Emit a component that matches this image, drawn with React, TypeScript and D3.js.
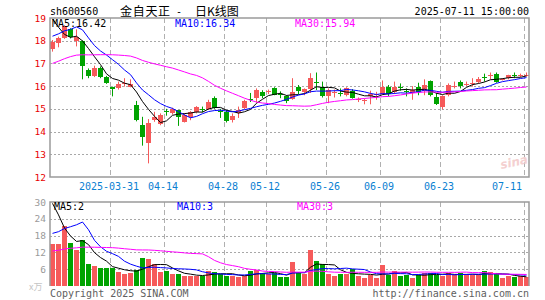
import React, { useEffect, useRef } from 'react';
import * as d3 from 'd3';

// trading days shown (2025-03-17 .. 2025-07-11)
const dates = [
  '2025-03-17', '2025-03-18', '2025-03-19', '2025-03-20', '2025-03-21', '2025-03-24', '2025-03-25', '2025-03-26',
  '2025-03-27', '2025-03-28', '2025-03-31', '2025-04-01', '2025-04-02', '2025-04-03', '2025-04-07', '2025-04-08',
  '2025-04-09', '2025-04-10', '2025-04-11', '2025-04-14', '2025-04-15', '2025-04-16', '2025-04-17', '2025-04-18',
  '2025-04-21', '2025-04-22', '2025-04-23', '2025-04-24', '2025-04-25', '2025-04-28', '2025-04-29', '2025-04-30',
  '2025-05-06', '2025-05-07', '2025-05-08', '2025-05-09', '2025-05-12', '2025-05-13', '2025-05-14', '2025-05-15',
  '2025-05-16', '2025-05-19', '2025-05-20', '2025-05-21', '2025-05-22', '2025-05-23', '2025-05-26', '2025-05-27',
  '2025-05-28', '2025-05-29', '2025-05-30', '2025-06-03', '2025-06-04', '2025-06-05', '2025-06-06', '2025-06-09',
  '2025-06-10', '2025-06-11', '2025-06-12', '2025-06-13', '2025-06-16', '2025-06-17', '2025-06-18', '2025-06-19',
  '2025-06-20', '2025-06-23', '2025-06-24', '2025-06-25', '2025-06-26', '2025-06-27', '2025-06-30', '2025-07-01',
  '2025-07-02', '2025-07-03', '2025-07-04', '2025-07-07', '2025-07-08', '2025-07-09', '2025-07-10', '2025-07-11',
];

const openPrices = [
  17.62, 17.88, 18.12, 18.5, 18.0, 18.0, 16.7, 16.45, 16.8, 16.4,
  15.98, 15.9, 16.12, 15.97, 15.15, 14.3, 13.48, 14.5, 14.33, 14.9,
  14.82, 14.93, 14.43, 14.65, 14.85, 14.99, 14.98, 15.5, 14.9, 14.85,
  14.5, 14.8, 15.02, 15.42, 15.47, 15.75, 15.74, 15.9, 15.65, 15.55,
  15.42, 15.98, 15.76, 15.86, 16.17, 15.98, 15.55, 15.72, 15.7, 15.62,
  15.8, 15.42, 15.35, 15.55, 15.62, 15.67, 15.98, 15.75, 15.97, 15.78,
  15.68, 15.97, 15.8, 16.23, 15.52, 15.07, 15.6, 16.0, 16.2, 16.08,
  16.12, 16.2, 16.4, 16.47, 16.55, 16.28, 16.35, 16.47, 16.47, 16.46,
];
const highPrices = [
  18.03, 18.18, 18.68, 18.55, 18.5, 18.02, 16.78, 16.9, 16.87, 16.45,
  15.98, 16.2, 16.35, 16.3, 15.35, 14.65, 14.55, 14.87, 14.8, 15.0,
  15.05, 14.95, 14.8, 14.9, 15.12, 15.1, 15.4, 15.55, 15.0, 14.95,
  14.8, 15.1, 15.4, 15.7, 15.9, 15.82, 15.85, 15.95, 15.77, 15.6,
  16.35, 16.05, 15.9, 16.57, 16.6, 16.2, 15.9, 15.85, 15.9, 15.95,
  15.87, 15.5, 15.45, 15.8, 15.75, 16.25, 16.05, 16.2, 16.12, 15.9,
  16.0, 16.15, 16.3, 16.25, 15.7, 15.6, 16.12, 16.2, 16.25, 16.2,
  16.35, 16.4, 16.55, 16.6, 16.6, 16.35, 16.5, 16.6, 16.55, 16.6,
];
const lowPrices = [
  17.52, 17.71, 18.08, 18.1, 17.75, 16.3, 16.35, 16.4, 16.35, 16.1,
  15.55, 15.85, 15.98, 15.95, 14.45, 13.38, 12.6, 14.43, 14.28, 14.7,
  14.75, 14.25, 14.4, 14.5, 14.8, 14.85, 14.95, 15.0, 14.6, 14.4,
  14.4, 14.6, 14.98, 15.3, 15.27, 15.47, 15.65, 15.6, 15.47, 15.25,
  15.4, 15.65, 15.6, 15.7, 15.83, 15.5, 15.25, 15.5, 15.55, 15.55,
  15.45, 15.3, 15.2, 15.2, 15.4, 15.63, 15.55, 15.65, 15.8, 15.55,
  15.4, 15.6, 15.6, 15.55, 15.17, 14.98, 15.55, 15.9, 15.9, 16.0,
  15.98, 16.12, 16.2, 16.3, 16.15, 16.25, 16.3, 16.35, 16.4, 16.42,
];
const closePrices = [
  17.93, 18.13, 18.63, 18.15, 18.15, 16.9, 16.45, 16.82, 16.42, 16.12,
  15.88, 16.08, 16.15, 16.1, 14.5, 13.78, 14.36, 14.62, 14.73, 14.87,
  15.0, 14.63, 14.73, 14.85, 15.1, 14.97, 15.32, 15.05, 14.88, 14.48,
  14.7, 14.95, 15.35, 15.4, 15.83, 15.58, 15.77, 15.63, 15.62, 15.35,
  15.73, 15.8, 15.87, 16.35, 16.13, 15.55, 15.83, 15.76, 15.65, 15.9,
  15.47, 15.45, 15.4, 15.65, 15.65, 15.98, 15.65, 15.98, 15.93, 15.75,
  15.83, 15.75, 16.05, 15.6, 15.2, 15.56, 16.05, 16.02, 16.0, 16.1,
  16.16, 16.3, 16.35, 16.5, 16.2, 16.3, 16.5, 16.45, 16.5, 16.5,
];
// volume, 万手
const volumes = [
  15.0, 15.0, 21.4, 15.3, 12.9, 16.4, 7.9, 7.1, 6.5, 6.5,
  6.6, 5.1, 4.3, 4.8, 5.7, 10.1, 9.6, 7.9, 5.1, 5.4,
  4.3, 4.3, 3.6, 3.6, 3.6, 3.6, 5.4, 5.0, 4.3, 3.6,
  3.6, 3.1, 3.7, 5.4, 5.7, 4.5, 4.2, 4.5, 3.1, 3.1,
  8.7, 4.5, 4.3, 12.9, 8.9, 7.9, 4.3, 3.6, 4.3, 4.3,
  6.0, 3.6, 3.0, 3.9, 3.0, 7.5, 3.9, 5.4, 3.6, 3.9,
  3.0, 3.9, 4.8, 4.8, 3.9, 3.6, 4.5, 3.9, 4.8, 3.9,
  3.9, 3.9, 5.4, 5.0, 4.2, 3.0, 3.6, 3.1, 3.6, 3.1,
];

// 29 sessions before the window, needed for the moving averages
const priorCloses = [
  15.2, 15.3, 15.4, 16.2, 16.4, 16.6, 16.7, 16.3, 16.1, 16.0,
  16.5, 16.7, 16.9, 16.9, 17.1, 16.8, 16.7, 16.6, 16.8, 16.8,
  17.1, 17.3, 17.5, 17.06, 18.2, 20.0, 20.2, 18.8, 17.9,
];
const priorVolumes = [
  7, 8, 7.5, 8, 9, 8.5, 7.5, 8, 8.3, 8,
  10, 11, 10.5, 12, 11, 10, 11.5, 10.2, 11, 10,
  9, 10, 9, 6, 6.5, 35.5, 44.9, 29.5, 22.6,
];

const tickDates = ['2025-03-31', '2025-04-14', '2025-04-28', '2025-05-12', '2025-05-26', '2025-06-09', '2025-06-23', '2025-07-11'];
const priceTicks = [19, 18, 17, 16, 15, 14, 13, 12];
const volumeTicks = [30, 24, 18, 12, 6];
const maPeriods = [5, 10, 30];
const priceMaLabels = ['MA5:16.42', 'MA10:16.34', 'MA30:15.94'];
const volumeMaLabels = ['MA5:2', 'MA10:3', 'MA30:3'];

const MONO = "'DejaVu Sans Mono', monospace";
const CJK = "'Noto Sans CJK SC', sans-serif";
const UP = '#f65a5a';
const DOWN = '#00a300';
const maColors = ['#000000', '#0000ff', '#ff00ff'];

const movingAverage = (history: number[], n: number, offset: number) =>
  d3.range(offset, history.length).map(i => d3.mean(history.slice(i - n + 1, i + 1)) as number);

const App: React.FC = () => {
  const svgRef = useRef<SVGSVGElement>(null);

  useEffect(() => {
    if (!svgRef.current) return;
    const svg = d3.select(svgRef.current);
    svg.selectAll('*').remove();

    const plotLeft = 50;
    const plotRight = 529;
    const priceTop = 18;
    const priceBottom = 177;
    const volTop = 202;
    const volBottom = 286;

    const x = d3.scaleBand<string>().domain(dates).range([49, 529]);
    const bw = x.bandwidth();
    const cx = (d: string) => (x(d) as number) + 3.5;
    const priceY = d3.scaleLinear().domain([12, 19]).range([priceBottom, priceTop]);
    const volY = d3.scaleLinear().domain([0, 30]).range([volBottom, volTop]);

    const defs = svg.append('defs');
    defs.append('clipPath').attr('id', 'clip-price')
      .append('rect').attr('x', plotLeft).attr('y', priceTop).attr('width', plotRight - plotLeft).attr('height', priceBottom - priceTop);
    defs.append('clipPath').attr('id', 'clip-vol')
      .append('rect').attr('x', plotLeft).attr('y', volTop).attr('width', plotRight - plotLeft).attr('height', volBottom - volTop);

    // horizontal dotted grid
    priceTicks.slice(1, -1).forEach(t => {
      svg.append('line')
        .attr('x1', plotLeft).attr('x2', plotRight)
        .attr('y1', Math.round(priceY(t)) + 0.5).attr('y2', Math.round(priceY(t)) + 0.5)
        .attr('stroke', '#a8a8a8').attr('stroke-dasharray', '2,2');
    });
    volumeTicks.slice(1).forEach(t => {
      svg.append('line')
        .attr('x1', plotLeft).attr('x2', plotRight)
        .attr('y1', Math.round(volY(t)) + 0.5).attr('y2', Math.round(volY(t)) + 0.5)
        .attr('stroke', '#a8a8a8').attr('stroke-dasharray', '2,2');
    });

    // vertical dashed date lines
    tickDates.forEach(d => {
      const lx = (x(d) as number) + 1.5;
      [[priceTop, priceBottom], [volTop, volBottom]].forEach(([a, b]) => {
        svg.append('line')
          .attr('x1', lx).attr('x2', lx).attr('y1', a).attr('y2', b)
          .attr('stroke', '#b0b0b0').attr('stroke-dasharray', '5,3');
      });
    });

    // watermark
    svg.append('text')
      .attr('x', 500).attr('y', 167)
      .attr('transform', 'rotate(-12 510 162)')
      .attr('font-family', 'Verdana, DejaVu Sans, sans-serif')
      .attr('font-size', 12).attr('font-style', 'italic').attr('font-weight', 700)
      .attr('fill', '#f4d0d0')
      .text('sina');

    // candles
    const pg = svg.append('g').attr('clip-path', 'url(#clip-price)');
    dates.forEach((d, i) => {
      const o = openPrices[i];
      const c = closePrices[i];
      const color = c >= o ? UP : DOWN;
      pg.append('line')
        .attr('x1', cx(d)).attr('x2', cx(d))
        .attr('y1', priceY(highPrices[i])).attr('y2', priceY(lowPrices[i]))
        .attr('stroke', color).attr('stroke-width', 1);
      const top = Math.round(priceY(Math.max(o, c)));
      const bot = Math.round(priceY(Math.min(o, c)));
      pg.append('rect')
        .attr('x', (x(d) as number) + 1).attr('width', bw - 1)
        .attr('y', top).attr('height', Math.max(1, bot - top))
        .attr('fill', color);
    });

    // price moving averages
    const priceHistory = priorCloses.concat(closePrices);
    maPeriods.forEach((n, k) => {
      const ma = movingAverage(priceHistory, n, priorCloses.length);
      pg.append('path')
        .datum(ma)
        .attr('fill', 'none').attr('stroke', maColors[k]).attr('stroke-width', 1)
        .attr('d', d3.line<number>().x((_, i) => cx(dates[i])).y(v => priceY(v)));
    });

    // volume bars
    const vg = svg.append('g').attr('clip-path', 'url(#clip-vol)');
    dates.forEach((d, i) => {
      const top = Math.round(volY(volumes[i]));
      vg.append('rect')
        .attr('x', (x(d) as number) + 1).attr('width', bw - 1)
        .attr('y', top).attr('height', volBottom - top)
        .attr('fill', closePrices[i] >= openPrices[i] ? UP : DOWN);
    });
    const volHistory = priorVolumes.concat(volumes);
    maPeriods.forEach((n, k) => {
      const ma = movingAverage(volHistory, n, priorVolumes.length);
      vg.append('path')
        .datum(ma)
        .attr('fill', 'none').attr('stroke', maColors[k]).attr('stroke-width', 1)
        .attr('d', d3.line<number>().x((_, i) => cx(dates[i])).y(v => volY(v)));
    });

    // frames
    svg.append('rect')
      .attr('x', plotLeft).attr('y', priceTop)
      .attr('width', plotRight - plotLeft).attr('height', priceBottom - priceTop)
      .attr('fill', 'none').attr('stroke', '#9a9a9a').attr('stroke-width', 1.5);
    svg.append('path')
      .attr('d', `M${plotLeft},${volBottom}V${volTop}H${plotRight}V${volBottom}`)
      .attr('fill', 'none').attr('stroke', '#9a9a9a').attr('stroke-width', 1.5);

    // axis labels
    priceTicks.forEach(t => {
      svg.append('text')
        .attr('x', 46).attr('y', priceY(t) + 3.5)
        .attr('text-anchor', 'end')
        .attr('font-family', MONO).attr('font-size', 9.5)
        .attr('fill', '#e80000')
        .text(t);
    });
    volumeTicks.forEach(t => {
      svg.append('text')
        .attr('x', 46).attr('y', volY(t) + 3.5)
        .attr('text-anchor', 'end')
        .attr('font-family', MONO).attr('font-size', 9.5)
        .attr('fill', '#9a9a9a')
        .text(t);
    });
    svg.append('text')
      .attr('x', 29).attr('y', 290)
      .attr('font-family', CJK).attr('font-size', 9)
      .attr('fill', '#c4c4c4')
      .text('x万');

    tickDates.forEach((d, i) => {
      const lx = Math.min(x(d) as number, plotRight - 22);
      svg.append('text')
        .attr('x', lx).attr('y', 189.5)
        .attr('text-anchor', 'middle')
        .attr('font-family', MONO).attr('font-size', 10)
        .attr('fill', '#0a80d2')
        .text(i === 0 ? d : d.slice(5));
    });

    // moving average legends
    const legendX = [52, 175, 295];
    priceMaLabels.forEach((s, k) => {
      svg.append('text')
        .attr('x', legendX[k]).attr('y', 27)
        .attr('font-family', MONO).attr('font-size', 10)
        .attr('fill', maColors[k])
        .text(s);
    });
    volumeMaLabels.forEach((s, k) => {
      svg.append('text')
        .attr('x', legendX[k] + 2).attr('y', 210)
        .attr('font-family', MONO).attr('font-size', 10)
        .attr('fill', maColors[k])
        .text(s);
    });

    // header
    svg.append('text')
      .attr('x', 50).attr('y', 15)
      .attr('font-family', MONO).attr('font-size', 10)
      .attr('fill', '#000')
      .text('sh600560');
    svg.append('text')
      .attr('x', 120).attr('y', 15.5)
      .attr('font-family', CJK).attr('font-size', 12).attr('letter-spacing', 0.7)
      .attr('fill', '#000')
      .text('金自天正');
    svg.append('text')
      .attr('x', 176).attr('y', 15)
      .attr('font-family', MONO).attr('font-size', 10)
      .attr('fill', '#000')
      .text('-');
    svg.append('text')
      .attr('x', 195).attr('y', 15.5)
      .attr('font-family', CJK).attr('font-size', 12)
      .attr('fill', '#000')
      .text('日K线图');
    svg.append('text')
      .attr('x', plotRight).attr('y', 15)
      .attr('text-anchor', 'end')
      .attr('font-family', MONO).attr('font-size', 10)
      .attr('fill', '#000')
      .text('2025-07-11 15:00:00');

    // footer
    svg.append('text')
      .attr('x', 50).attr('y', 296.5)
      .attr('font-family', MONO).attr('font-size', 10)
      .attr('fill', '#606060')
      .text('Copyright 2025 SINA.COM');
    svg.append('text')
      .attr('x', plotRight).attr('y', 296.5)
      .attr('text-anchor', 'end')
      .attr('font-family', MONO).attr('font-size', 10)
      .attr('fill', '#606060')
      .text('http://finance.sina.com.cn');
  }, []);

  return (
    <svg
      ref={svgRef}
      width={545}
      height={300}
      style={{ position: 'absolute', left: 0, top: 0, background: '#fff', display: 'block' }}
    />
  );
};

export default App;
